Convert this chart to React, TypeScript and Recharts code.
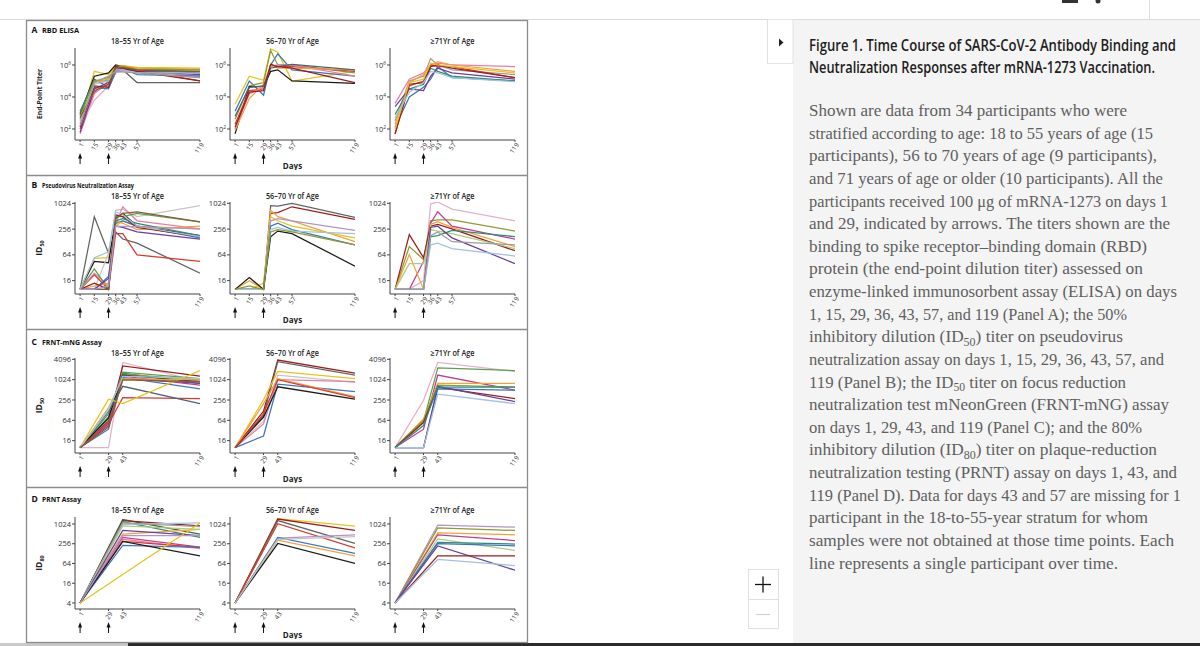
import React from 'react';
import { LineChart, Line, XAxis, YAxis } from 'recharts';

// ---------- axes / categories ----------
const daysAB = [1, 15, 29, 36, 43, 57, 119];
const daysC = [1, 29, 43, 119];
const daysD = [1, 43, 119];
const xTicksAB = [1, 15, 29, 36, 43, 57, 119];
const xTicksCD = [1, 29, 43, 119];
const vaccinationDays = [1, 29];

const yTicksA = [100, 10000, 1000000];
const yTicksB = [16, 64, 256, 1024];
const yTicksC = [16, 64, 256, 1024, 4096];
const yTicksD = [4, 16, 64, 256, 1024];

const ageGroups = ['18–55 Yr of Age', '56–70 Yr of Age', '≥71Yr of Age'];
const panelLetters = ['A', 'B', 'C', 'D'];
const panelNames = ['RBD ELISA', 'Pseudovirus Neutralization Assay', 'FRNT-mNG Assay', 'PRNT Assay'];

// ---------- Panel A: RBD ELISA end-point titers (days 1,15,29,36,43,57,119) ----------
const elisa18to55 = [
  [250, 4e5, 2.5e5, 8e5, 9e5, 7e5, 6.3e5],
  [800, 2e5, 3.2e5, 1e6, 8e5, 5e5, 3.2e5],
  [1000, 1.3e5, 4e4, 3.2e5, 5e5, 8e4, 8e4],
  [1300, 1e5, 1e5, 6.3e5, 8e5, 4e5, 4e5],
  [100, 2e4, 6.3e4, 5e5, 6.3e5, 5e5, 1e5],
  [50, 1.6e4, 1e5, 4e5, 5e5, 4e5, 2e5],
  [160, 6.3e3, 5e4, 3.2e5, 4e5, 3.2e5, 1.6e5],
  [400, 4e4, 3.2e4, 4e5, 6.3e5, 2.5e5, 2e5],
  [200, 8e4, 1.3e5, 8e5, 9e5, 6.3e5, 5.6e5],
  [630, 1e5, 1.6e5, 6.3e5, 8e5, 5.6e5, 5e5],
  [63, 3.2e4, 8e4, 5e5, 6.3e5, 4e5, 2.5e5],
  [130, 5e4, 4e4, 8e5, 6.3e5, 4e5, 1e5],
  [320, 6.3e4, 1e5, 5e5, 5e5, 3.2e5, 3.2e5],
  [500, 2.5e4, 6.3e4, 6.3e5, 7e5, 5e5, 4e5],
  [160, 8e4, 2e5, 4e5, null, null, 1.6e5],
];
const elisa56to70 = [
  [3500, 2e5, 1.1e5, 1e7, 6.3e6, 1e5, 4e5],
  [1300, 1e5, 1.3e4, 1e6, 5e6, 5e5, 2e5],
  [400, 5e4, 8e4, 8e6, 1e6, 1e6, 3.2e5],
  [50, 4.5e4, 4.5e4, 4e5, 5e5, 1e5, 7e4],
  [200, 2.5e4, 3.2e4, 1e6, 8e5, 8e5, 4e5],
  [100, 1.6e4, 4e4, 8e5, 1e6, 1e6, 2e5],
  [80, 8e3, 6.3e4, 1e6, 6.3e5, 6.3e5, 5e5],
  [630, 4e4, 5e4, 6.3e5, 8e5, 1.1e6, 5e5],
  [130, 2e4, 2.5e4, 1.1e6, 8e5, 6.3e5, 8e4],
];
const elisa71plus = [
  [320, 1e5, 2e5, 2.5e6, 1e6, 5e5, 2.5e5],
  [4000, 1.3e5, 3.2e5, 1e6, 1.3e6, 1e6, 8e5],
  [200, 8e4, 2.5e5, 1e6, 1.6e6, 1e6, 4e5],
  [130, 1e4, 4e4, 1.3e5, 8e5, 1.6e5, 1e5],
  [800, 3.2e4, 6.3e4, 6.3e5, 4e5, 2e5, 1e5],
  [2500, 3.2e4, 2.5e4, 2e5, 6.3e5, 3.2e5, 1.3e5],
  [50, 5e4, 1e5, 1e6, 8e5, 8e5, 1.6e5],
  [50, 6.3e4, 8e4, 8e5, 1e6, 6.3e5, 1.6e5],
  [100, 8e4, 1.3e5, 1.3e6, 1e6, 8e5, 3.2e5],
  [500, 2e4, 8e4, 4e5, 3.2e5, 1.6e5, 9e4],
];

// ---------- Panel B: pseudovirus ID50 (days 1,15,29,36,43,57,119) ----------
const pseudo18to55 = [
  [10, 500, 70, 220, 150, 120, 24],
  [10, 53, 55, 300, 400, 300, 260],
  [10, 45, 42, 450, 600, 300, 180],
  [10, 10, 70, 700, 750, 500, 900],
  [10, 22, 10, 200, 200, 64, 45],
  [10, 24, 12, 350, 850, 400, 260],
  [10, 30, 10, 500, 500, 600, 380],
  [10, 10, 20, 350, 400, 300, 160],
  [10, 12, 14, 400, 350, 250, 300],
  [10, 10, 18, 300, 280, 220, 150],
  [10, 14, 10, 550, 500, 280, 170],
  [10, 10, 10, 400, 450, 350, 180],
  [10, 55, 75, 650, 550, 300, 170],
  [10, 10, 10, 450, 600, 650, 380],
  [10, 10, 12, 300, null, null, 260],
];
const pseudo56to70 = [
  [10, 10, 10, 900, 880, 1024, 480],
  [10, 10, 10, 600, 620, 850, 430],
  [10, 16, 10, 700, 500, 400, 130],
  [10, 10, 14, 500, 400, 300, 160],
  [10, 10, 10, 400, 450, 400, 240],
  [10, 10, 10, 300, 350, 250, 110],
  [10, 10, 10, 250, 280, 230, 200],
  [10, 19, 10, 170, 230, 200, 35],
  [10, 12, 10, 220, 250, 220, 110],
];
const pseudo71plus = [
  [10, 10, 16, 1000, 1100, 750, 400],
  [10, 100, 50, 400, 420, 420, 230],
  [10, 10, 45, 350, 650, 300, 150],
  [10, 190, 55, 300, 330, 260, 80],
  [10, 65, 10, 330, 380, 280, 100],
  [10, 40, 40, 250, 230, 200, 90],
  [10, 10, 10, 170, 180, 240, 170],
  [10, 10, 10, 280, 300, 160, 40],
  [10, 10, 10, 110, 120, 90, 60],
  [10, 10, 10, 180, 220, 130, 110],
];

// ---------- Panel C: FRNT-mNG ID50 (days 1,29,43,119) ----------
const frnt18to55 = [
  [10, 10, 3300, 900],
  [10, 60, 2600, 1300],
  [10, 80, 1700, 1100],
  [10, 100, 1600, 800],
  [10, 35, 1200, 550],
  [10, 45, 1100, 800],
  [10, 55, 1300, 700],
  [10, 70, 1500, 1000],
  [10, 75, 1400, 900],
  [10, 50, 300, 280],
  [10, 120, 650, 200],
  [10, 150, 1100, 1000],
  [10, 270, 200, 1900],
  [10, 130, 1300, 1100],
  [10, 40, 1000, 900],
];
const frnt56to70 = [
  [10, 120, 3900, 1600],
  [10, 90, 3500, 1400],
  [10, 260, 1800, 1100],
  [10, 60, 1400, 850],
  [10, 50, 1024, 900],
  [10, 22, 750, 450],
  [10, 200, 1100, 320],
  [10, 80, 630, 270],
  [10, 100, 1024, 300],
];
const frnt71plus = [
  [10, 250, 3300, 1800],
  [10, 60, 2300, 1900],
  [10, 35, 1400, 500],
  [10, 70, 800, 800],
  [10, 65, 700, 620],
  [10, 55, 600, 280],
  [10, 10, 550, 500],
  [10, 10, 650, 230],
  [10, 10, 380, 200],
  [10, 45, 620, 620],
];

// ---------- Panel D: PRNT ID80 (days 1,43,119) ----------
const prnt18to55 = [
  [4, 1400, 500],
  [4, 1300, 900],
  [4, 1200, 400],
  [4, 1000, 1100],
  [4, 1100, 850],
  [4, 500, 700],
  [4, 900, 700],
  [4, 650, 450],
  [4, 400, 200],
  [4, 350, 180],
  [4, 300, 200],
  [4, 230, 200],
  [4, 300, 110],
  [4, 450, 450],
  [4, null, 1100],
];
const prnt56to70 = [
  [4, 1500, 880],
  [4, 1450, 650],
  [4, 1300, 260],
  [4, 1050, 190],
  [4, 380, 480],
  [4, 400, 130],
  [4, 330, 110],
  [4, 260, 64],
  [4, 350, 420],
];
const prnt71plus = [
  [4, 950, 820],
  [4, 780, 650],
  [4, 550, 480],
  [4, 480, 320],
  [4, 360, 160],
  [4, 280, 250],
  [4, 260, 220],
  [4, 220, 40],
  [4, 110, 110],
  [4, 85, 55],
];

// ---------- colours ----------
const K = '#1b1b1b', DG = '#626262', GR = '#9d9d9d', LG = '#c4c4c4', YE = '#e9c21a', OR = '#f0a23c',
  RE = '#d83b2d', DR = '#9a1d1d', PI = '#e67fa8', LP = '#e4b0cc', MA = '#c03c8c', PU = '#6b3e9e',
  BL = '#3b76bb', LB = '#9fc3e0', TE = '#2d8c78', GN = '#58a24e', OL = '#8b9b2e', LGN = '#aacd82',
  BR = '#8c5a2e', LI = '#b393cc', SL = '#4c6272', DGN = '#3f6b3a';
const colA1 = [YE, K, DG, TE, RE, PI, LP, BL, OR, OL, PU, DR, LB, BR, GR];
const colA2 = [YE, BL, OL, K, RE, PI, OR, SL, DR];
const colA3 = [GR, PI, OR, BL, TE, PU, RE, DR, YE, LB];
const colB1 = [DG, YE, K, LG, RE, PI, GN, BL, OR, PU, DR, TE, LB, BR, LI];
const colB2 = [DG, DR, OR, YE, LI, BL, LB, K, OL];
const colB3 = [LP, OL, MA, DR, OR, LGN, TE, PU, LB, GR];
const colC1 = [LP, DR, GN, TE, BL, PU, MA, OL, K, RE, SL, OR, YE, LB, BR];
const colC2 = [DR, DG, YE, LG, PI, BL, OR, K, RE];
const colC3 = [LP, GN, MA, OR, OL, DR, BL, PU, LB, TE];
const colD1 = [DGN, DR, TE, LB, GR, OR, LGN, PU, MA, PI, RE, BL, K, LI, YE];
const colD2 = [YE, DR, DG, RE, LI, BL, OR, K, LG];
const colD3 = [LI, OL, OR, MA, LGN, TE, BL, PU, DR, LB];

// ---------- caption text ----------
const captionTitle = [
  'Figure 1. Time Course of SARS-CoV-2 Antibody Binding and',
  'Neutralization Responses after mRNA-1273 Vaccination.',
];
const captionBody = [
  'Shown are data from 34 participants who were',
  'stratified according to age: 18 to 55 years of age (15',
  'participants), 56 to 70 years of age (9 participants),',
  'and 71 years of age or older (10 participants). All the',
  'participants received 100 μg of mRNA-1273 on days 1',
  'and 29, indicated by arrows. The titers shown are the',
  'binding to spike receptor–binding domain (RBD)',
  'protein (the end-point dilution titer) assessed on',
  'enzyme-linked immunosorbent assay (ELISA) on days',
  '1, 15, 29, 36, 43, 57, and 119 (Panel A); the 50%',
  'inhibitory dilution (ID_50) titer on pseudovirus',
  'neutralization assay on days 1, 15, 29, 36, 43, 57, and',
  '119 (Panel B); the ID_50 titer on focus reduction',
  'neutralization test mNeonGreen (FRNT-mNG) assay',
  'on days 1, 29, 43, and 119 (Panel C); and the 80%',
  'inhibitory dilution (ID_80) titer on plaque-reduction',
  'neutralization testing (PRNT) assay on days 1, 43, and',
  '119 (Panel D). Data for days 43 and 57 are missing for 1',
  'participant in the 18-to-55-year stratum for whom',
  'samples were not obtained at those time points. Each',
  'line represents a single participant over time.',
];

// ---------- layout (not data) ----------
const bodyLineWidths = [318, 344, 348, 354, 359, 361, 338, 334, 368, 318, 314, 355, 317, 360, 333, 348, 368, 372, 339, 365, 309];
const titleWidths = [367, 346];
const SANS = '"Open Sans", "Noto Sans", sans-serif';
const SERIF = '"Liberation Serif", "DejaVu Serif", serif';
const Y_W = 30;
const PLOT_W = 125;
const X_H = 30;
const TOP_PAD = 6;
const plotLefts = [75, 230, 390];
const panelPlotTops = [48, 202, 358, 517];
const panelPlotHeights = [92, 92, 95, 92];
const panelDomains: [number, number][] = [[20.5, 1.155e7], [7.8, 1100], [6.9, 4480], [2.62, 1673]];
const panelLabelBase = [32.5, 187.8, 344.5, 501.5];
const subtitleBase = [43.8, 198.8, 356.3, 513.3];
const panelNameWidths = [37, 92, 60, 39];
const subtitleWidths = [53, 53, 44];

const XTick = (props: any) => {
  const { x, y, payload } = props;
  const v = payload.value;
  const isArrow = vaccinationDays.includes(v);
  return (
    <g>
      <text
        transform={`translate(${x + 2.5},${y + 0.5}) rotate(-55)`}
        textAnchor="end"
        dy="0.35em"
        fontSize={6.5}
        fill="#333"
        fontFamily={SANS}
      >
        {v}
      </text>
      {isArrow && (
        <g>
          <line x1={x} x2={x} y1={y + 14} y2={y + 21} stroke="#111" strokeWidth={1} />
          <polygon points={`${x - 2},${y + 15.5} ${x + 2},${y + 15.5} ${x},${y + 10}`} fill="#111" />
        </g>
      )}
    </g>
  );
};

const PowTick = (props: any) => {
  const { x, y, payload } = props;
  const exp = Math.round(Math.log10(payload.value));
  return (
    <text x={x} y={y} dy="0.35em" textAnchor="end" fontSize={7.5} fill="#333" fontFamily={SANS}>
      10<tspan dy={-2.8} fontSize={4.8}>{exp}</tspan>
    </text>
  );
};

const NumTick = (props: any) => {
  const { x, y, payload } = props;
  return (
    <text x={x} y={y} dy="0.35em" textAnchor="end" fontSize={7.5} fill="#333" fontFamily={SANS}>
      {payload.value}
    </text>
  );
};

type MiniProps = {
  values: (number | null)[][];
  days: number[];
  colors: string[];
  xTicks: number[];
  yTicks: number[];
  domainY: [number, number];
  pow: boolean;
  left: number;
  top: number;
  plotH: number;
  showDays: boolean;
};

function Mini({ values, days, colors, xTicks, yTicks, domainY, pow, left, top, plotH, showDays }: MiniProps) {
  const rows = days.map((d, i) => {
    const r: any = { day: d };
    values.forEach((p, j) => {
      r['p' + j] = p[i];
    });
    return r;
  });
  return (
    <div style={{ position: 'absolute', left: left - Y_W, top: top - TOP_PAD }}>
      <LineChart width={Y_W + PLOT_W + 5} height={plotH + X_H + TOP_PAD} data={rows} margin={{ top: TOP_PAD, right: 5, bottom: 0, left: 0 }}>
        <XAxis
          type="number"
          dataKey="day"
          domain={[-4, 119]}
          ticks={xTicks}
          interval={0}
          allowDataOverflow
          height={X_H}
          tick={(p: any) => <XTick {...p} />}
          tickSize={2}
          tickMargin={1}
          stroke="#444"
          label={
            showDays
              ? { value: 'Days', position: 'insideBottom', offset: 1, fontSize: 8, fontWeight: 700, fill: '#222', fontFamily: SANS }
              : undefined
          }
        />
        <YAxis
          type="number"
          scale="log"
          domain={domainY}
          ticks={yTicks}
          interval={0}
          allowDataOverflow
          width={Y_W}
          tick={(p: any) => (pow ? <PowTick {...p} /> : <NumTick {...p} />)}
          tickSize={3}
          tickMargin={1}
          stroke="#444"
        />
        {values.map((_, j) => (
          <Line
            key={j}
            type="linear"
            dataKey={'p' + j}
            stroke={colors[j]}
            strokeWidth={1.25}
            dot={false}
            activeDot={false}
            isAnimationActive={false}
            connectNulls
          />
        ))}
      </LineChart>
    </div>
  );
}

const panelSeries = [
  { days: daysAB, xTicks: xTicksAB, yTicks: yTicksA, pow: true, groups: [elisa18to55, elisa56to70, elisa71plus], colors: [colA1, colA2, colA3] },
  { days: daysAB, xTicks: xTicksAB, yTicks: yTicksB, pow: false, groups: [pseudo18to55, pseudo56to70, pseudo71plus], colors: [colB1, colB2, colB3] },
  { days: daysC, xTicks: xTicksCD, yTicks: yTicksC, pow: false, groups: [frnt18to55, frnt56to70, frnt71plus], colors: [colC1, colC2, colC3] },
  { days: daysD, xTicks: xTicksCD, yTicks: yTicksD, pow: false, groups: [prnt18to55, prnt56to70, prnt71plus], colors: [colD1, colD2, colD3] },
];

function renderBodyLine(s: string) {
  const parts = s.split(/ID_(\d\d)/);
  const out: any[] = [];
  let shiftBack = false;
  parts.forEach((p, i) => {
    if (i % 2 === 0) {
      if (p) {
        out.push(<tspan key={i} dy={shiftBack ? -3.5 : undefined}>{p}</tspan>);
        shiftBack = false;
      }
    } else {
      out.push(<tspan key={'a' + i}>ID</tspan>);
      out.push(<tspan key={'b' + i} fontSize={11.5} dy={3.5}>{p}</tspan>);
      shiftBack = true;
    }
  });
  return out;
}

export default function App() {
  return (
    <div style={{ position: 'absolute', left: 0, top: 0, width: 1200, height: 646, background: '#fff', overflow: 'hidden' }}>
      <svg width={1200} height={646} style={{ position: 'absolute', left: 0, top: 0 }}>
        {/* page chrome */}
        <line x1={0} x2={1200} y1={19.5} y2={19.5} stroke="#dcdcdc" />
        <line x1={1149.5} x2={1149.5} y1={0} y2={19} stroke="#dcdcdc" />
        <rect x={1062} y={0} width={16} height={3} fill="#333" />
        <circle cx={1098} cy={1} r={2.5} fill="#333" />
        <rect x={793} y={20} width={407} height={623} fill="#f4f4f4" />
        <rect x={767.5} y={19.5} width={25.5} height={44} fill="#fff" stroke="#e2e2e2" />
        <polygon points="779,38.5 779,46.5 783.5,42.5" fill="#222" />
        <rect x={748.5} y={569.5} width={30} height={30} fill="#fff" stroke="#e0e0e0" />
        <rect x={748.5} y={599.5} width={30} height={29} fill="#fff" stroke="#e0e0e0" />
        <line x1={755} x2={771} y1={584.5} y2={584.5} stroke="#111" strokeWidth={1.3} />
        <line x1={763} x2={763} y1={576.5} y2={592.5} stroke="#111" strokeWidth={1.3} />
        <line x1={756} x2={770} y1={614.5} y2={614.5} stroke="#d0d0d0" strokeWidth={1.2} />
        <rect x={0} y={643} width={128} height={3} fill="#c8c8c8" />
        <rect x={128} y={643} width={1072} height={3} fill="#2a2a2a" />

        {/* figure frame */}
        <rect x={26.5} y={20.5} width={501} height={622} fill="#fff" stroke="#8c8c8c" strokeWidth={1.3} />
        {[175.5, 329.5, 487.5].map((y) => (
          <line key={y} x1={26.5} x2={527.5} y1={y} y2={y} stroke="#8c8c8c" strokeWidth={1.3} />
        ))}

        {/* panel labels and subtitles */}
        {panelLetters.map((L, i) => (
          <g key={L}>
            <text x={31.5} y={panelLabelBase[i]} fontSize={8.5} fontWeight={700} fill="#111" fontFamily={SANS}>{L}</text>
            <text x={42} y={panelLabelBase[i]} fontSize={7.5} fontWeight={700} fill="#111" fontFamily={SANS}
              textLength={panelNameWidths[i]} lengthAdjust="spacingAndGlyphs">{panelNames[i]}</text>
            {ageGroups.map((g, k) => (
              <text key={g} x={plotLefts[k] + PLOT_W / 2} y={subtitleBase[i]} textAnchor="middle" fontSize={8}
                fontWeight={600} fill="#222" fontFamily={SANS} textLength={subtitleWidths[k]} lengthAdjust="spacingAndGlyphs">{g}</text>
            ))}
            <g transform={`translate(39,${panelPlotTops[i] + panelPlotHeights[i] / 2}) rotate(-90)`}>
              {i === 0 ? (
                <text x={0} y={0} textAnchor="middle" dy="0.35em" fontSize={7.5} fontWeight={700} fill="#222" fontFamily={SANS}
                  textLength={50} lengthAdjust="spacingAndGlyphs">End-Point Titer</text>
              ) : (
                <text x={0} y={0} textAnchor="middle" dy="0.35em" fontSize={8.5} fontWeight={700} fill="#222" fontFamily={SANS}>
                  ID<tspan fontSize={5.5} dy={2}>{i === 3 ? '80' : '50'}</tspan>
                </text>
              )}
            </g>
          </g>
        ))}

        {/* caption */}
        {captionTitle.map((t, i) => (
          <g key={t} transform={`translate(809,${50.5 + i * 22.8}) scale(1,1.2)`}>
            <text x={0} y={0} fontSize={13.2} fontWeight={600} fill="#1e1e1e" fontFamily={SANS}
              textLength={titleWidths[i]} lengthAdjust="spacingAndGlyphs">{t}</text>
          </g>
        ))}
        {captionBody.map((t, i) => (
          <g key={i} transform={`translate(809,${116 + i * 22.63}) scale(1,1.07)`}>
            <text x={0} y={0} fontSize={16.6} fill="#606060" fontFamily={SERIF}
              textLength={bodyLineWidths[i]} lengthAdjust="spacingAndGlyphs">{renderBodyLine(t)}</text>
          </g>
        ))}
      </svg>

      {panelSeries.map((ps, i) =>
        ps.groups.map((vals, k) => (
          <Mini
            key={i + '-' + k}
            values={vals}
            days={ps.days}
            colors={ps.colors[k]}
            xTicks={ps.xTicks}
            yTicks={ps.yTicks}
            domainY={panelDomains[i]}
            pow={ps.pow}
            left={plotLefts[k]}
            top={panelPlotTops[i]}
            plotH={panelPlotHeights[i]}
            showDays={k === 1}
          />
        ))
      )}
    </div>
  );
}
